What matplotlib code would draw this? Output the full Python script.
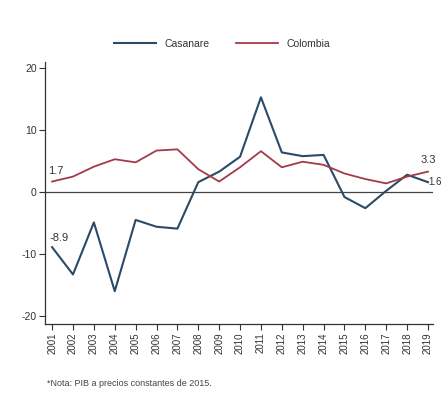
import matplotlib
matplotlib.use("Agg")
import matplotlib.pyplot as plt

years = list(range(2001, 2020))
casanare = [-8.9, -13.3, -4.9, -16.0, -4.5, -5.6, -5.9, 1.6, 3.3, 5.7, 15.3, 6.4, 5.8, 6.0, -0.8, -2.6, 0.2, 2.8, 1.6]
colombia = [1.7, 2.5, 4.1, 5.3, 4.8, 6.7, 6.9, 3.7, 1.7, 4.0, 6.6, 4.0, 4.9, 4.4, 3.0, 2.1, 1.4, 2.5, 3.3]
yticks = [-20, -10, 0, 10, 20]
note = "*Nota: PIB a precios constantes de 2015."

plt.rcParams['font.family'] = ['Liberation Sans', 'DejaVu Sans']

W, H = 443, 405
fig = plt.figure(figsize=(W/100, H/100), dpi=100)
fig.patch.set_facecolor('white')
ax = fig.add_axes([45/W, 1-324/H, (433-45)/W, (324-62)/H])

c1 = '#2b4a66'
c2 = '#a33a4a'
ax.plot(years, casanare, color=c1, lw=1.5, label='Casanare')
ax.plot(years, colombia, color=c2, lw=1.3, label='Colombia')
ax.axhline(0, color='#444444', lw=0.9, zorder=0)

ax.set_xlim(2000.66, 2019.24)
ax.set_ylim(-21.3, 21.0)
ax.set_yticks(yticks)
ax.set_yticklabels([str(t) for t in yticks], fontsize=7.5, color='#333333')
ax.set_xticks(years)
ax.set_xticklabels([str(y) for y in years], rotation=90, fontsize=7, color='#333333')
ax.tick_params(axis='both', length=4, width=0.8, color='#333333', pad=2)
for s in ['top', 'right']:
    ax.spines[s].set_visible(False)
for s in ['left', 'bottom']:
    ax.spines[s].set_color('#333333')
    ax.spines[s].set_linewidth(0.9)

fs = 8
ax.annotate(f"{casanare[0]}", (years[0], casanare[0]), xytext=(-2, 3), textcoords='offset points',
            fontsize=fs, color='#333333', ha='left', va='bottom')
ax.annotate(f"{colombia[0]}", (years[0], colombia[0]), xytext=(-3, 4), textcoords='offset points',
            fontsize=fs, color='#333333', ha='left', va='bottom')
ax.annotate(f"{colombia[-1]}", (years[-1], colombia[-1]), xytext=(-5, 5), textcoords='offset points',
            fontsize=fs, color='#333333', ha='left', va='bottom')
ax.annotate(f"{casanare[-1]}", (years[-1], casanare[-1]), xytext=(0.5, 0), textcoords='offset points',
            fontsize=7, color='#333333', ha='left', va='center', annotation_clip=False)

leg = fig.legend(loc='center', bbox_to_anchor=(222/W, 1-44/H), ncol=2, frameon=False,
                 fontsize=7.5, handlelength=4.0, columnspacing=2.6, handletextpad=0.8)
for t in leg.get_texts():
    t.set_color('#333333')

fig.text(47/W, 1-383/H, note, fontsize=6.5, color='#444444', ha='left', va='center')

fig.savefig('out.png', dpi=100, facecolor='white')
